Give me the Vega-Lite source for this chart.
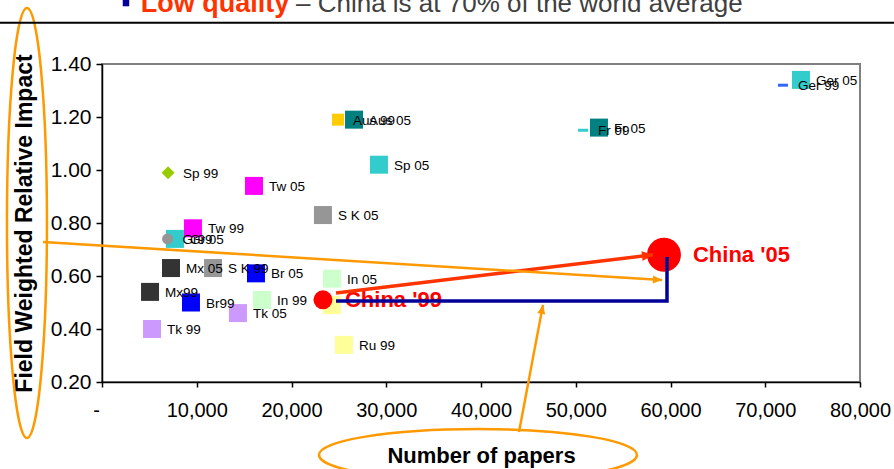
{
  "$schema": "https://vega.github.io/schema/vega-lite/v6.json",
  "width": 758,
  "height": 318,
  "autosize": {"type": "none"},
  "padding": {"left": 102, "top": 64, "right": 34, "bottom": 87},
  "background": "white",
  "config": {
    "view": {"stroke": "#808080", "strokeWidth": 2},
    "font": "Liberation Sans",
    "text": {"font": "Liberation Sans"}
  },
  "datasets": {
    "countries": [
      {"label": "Ger 05", "papers": 73770, "impact": 1.34},
      {"label": "Ger 99", "papers": 71870, "impact": 1.32},
      {"label": "Fr 05", "papers": 52450, "impact": 1.16},
      {"label": "Fr 99", "papers": 50770, "impact": 1.15},
      {"label": "Aus 05", "papers": 26600, "impact": 1.19},
      {"label": "Aus 99", "papers": 24910, "impact": 1.19},
      {"label": "Sp 05", "papers": 29230, "impact": 1.02},
      {"label": "Sp 99", "papers": 6970, "impact": 0.99},
      {"label": "Tw 05", "papers": 16040, "impact": 0.94},
      {"label": "Tw 99", "papers": 9600, "impact": 0.78},
      {"label": "S K 05", "papers": 23320, "impact": 0.83},
      {"label": "S K 99", "papers": 11720, "impact": 0.63},
      {"label": "Gr 05", "papers": 7700, "impact": 0.74},
      {"label": "Gr99", "papers": 6920, "impact": 0.74},
      {"label": "Mx 05", "papers": 7280, "impact": 0.63},
      {"label": "Mx99", "papers": 5070, "impact": 0.54},
      {"label": "Br 05", "papers": 16250, "impact": 0.61},
      {"label": "Br99", "papers": 9390, "impact": 0.50},
      {"label": "In 05", "papers": 24270, "impact": 0.59},
      {"label": "In 99", "papers": 16890, "impact": 0.51},
      {"label": "Tk 05", "papers": 14350, "impact": 0.46},
      {"label": "Tk 99", "papers": 5280, "impact": 0.40},
      {"label": "Ru 05", "papers": 24270, "impact": 0.49},
      {"label": "Ru 99", "papers": 25540, "impact": 0.34},
      {"label": "China '99", "papers": 23320, "impact": 0.51},
      {"label": "China '05", "papers": 59310, "impact": 0.68}
    ],
    "guides": [
      {"guide": "step", "step": 1, "papers": 24700, "impact": 0.506},
      {"guide": "step", "step": 2, "papers": 59630, "impact": 0.506},
      {"guide": "step", "step": 3, "papers": 59630, "impact": 0.672},
      {"guide": "growth", "step": 1, "papers": 24700, "impact": 0.536},
      {"guide": "growth", "step": 2, "papers": 58150, "impact": 0.68},
      {"guide": "impact-pointer", "step": 1, "papers": -6230, "impact": 0.728},
      {"guide": "impact-pointer", "step": 2, "papers": 59100, "impact": 0.585},
      {"guide": "papers-pointer", "step": 1, "papers": 44010, "impact": 0.011},
      {"guide": "papers-pointer", "step": 2, "papers": 46540, "impact": 0.491}
    ],
    "rings": [
      {"ring": "impact-title", "papers": -7920, "impact": 0.8},
      {"ring": "papers-title", "papers": 39680, "impact": -0.0755}
    ],
    "heading": [
      {"part": "bullet", "papers": 2530, "impact": 1.63, "text": ""},
      {"part": "lead", "papers": 4080, "impact": 1.597, "text": "Low quality"},
      {"part": "rest", "papers": 20475, "impact": 1.597, "text": "– China is at 70% of the world average"},
      {"part": "rule", "papers": -12000, "impact": 1.556, "text": ""},
      {"part": "rule", "papers": 86000, "impact": 1.556, "text": ""}
    ]
  },
  "encoding": {
    "x": {
      "field": "papers",
      "type": "quantitative",
      "scale": {"domain": [0, 80000], "nice": false, "zero": false},
      "axis": {
        "title": "Number of papers",
        "values": [0, 10000, 20000, 30000, 40000, 50000, 60000, 70000, 80000],
        "labelExpr": "datum.value === 0 ? '-' : format(datum.value, ',')",
        "labelOffset": {"condition": {"test": "datum.value === 0", "value": -6}, "value": 0},
        "grid": false,
        "domainColor": "#000000",
        "domainWidth": 1.5,
        "tickColor": "#000000",
        "tickWidth": 1.5,
        "tickSize": 5,
        "labelFont": "Liberation Sans",
        "labelFontSize": 20,
        "labelColor": "#000000",
        "labelPadding": 13,
        "labelFlush": false,
        "labelOverlap": false,
        "titleFont": "Liberation Sans",
        "titleFontSize": 22,
        "titleFontWeight": "bold",
        "titleColor": "#000000",
        "titlePadding": 25
      }
    },
    "y": {
      "field": "impact",
      "type": "quantitative",
      "scale": {"domain": [0.2, 1.4], "nice": false, "zero": false},
      "axis": {
        "title": "Field Weighted Relative Impact",
        "values": [0.2, 0.4, 0.6, 0.8, 1.0, 1.2, 1.4],
        "format": ".2f",
        "grid": false,
        "domainColor": "#000000",
        "domainWidth": 1.5,
        "tickColor": "#000000",
        "tickWidth": 1.5,
        "tickSize": 6,
        "labelFont": "Liberation Sans",
        "labelFontSize": 21,
        "labelColor": "#000000",
        "labelPadding": 5,
        "labelFlush": false,
        "labelOverlap": false,
        "titleFont": "Liberation Sans",
        "titleFontSize": 23,
        "titleFontWeight": "bold",
        "titleColor": "#000000",
        "titlePadding": 14
      }
    }
  },
  "layer": [
    {
      "data": {"name": "countries"},
      "transform": [{"filter": {"field": "label", "oneOf": ["Ger 05", "Fr 05", "Aus 05", "Sp 05", "Tw 05", "Tw 99", "S K 05", "S K 99", "Gr 05", "Mx 05", "Mx99", "Br 05", "Br99", "In 05", "In 99", "Tk 05", "Tk 99", "Ru 05", "Ru 99"]}}],
      "mark": {"type": "point", "shape": "square", "filled": true, "size": 324, "opacity": 1, "strokeWidth": 0},
      "encoding": {
        "color": {
          "field": "label",
          "type": "nominal",
          "legend": null,
          "scale": {
            "domain": ["Ger 05", "Ger 99", "Fr 05", "Fr 99", "Aus 05", "Aus 99", "Sp 05", "Sp 99", "Tw 05", "Tw 99", "S K 05", "S K 99", "Gr 05", "Gr99", "Mx 05", "Mx99", "Br 05", "Br99", "In 05", "In 99", "Tk 05", "Tk 99", "Ru 05", "Ru 99", "China '99", "China '05"],
            "range": ["#33CCCC", "#3366FF", "#008080", "#33CCCC", "#008080", "#FFCC00", "#33CCCC", "#99CC00", "#FF00FF", "#FF00FF", "#969696", "#969696", "#33CCCC", "#969696", "#333333", "#333333", "#0000FF", "#0000FF", "#CCFFCC", "#CCFFCC", "#CC99FF", "#CC99FF", "#FFFF99", "#FFFF99", "#FF0000", "#FF0000"]
          }
        }
      }
    },
    {
      "data": {"name": "countries"},
      "transform": [{"filter": {"field": "label", "equal": "Aus 99"}}],
      "mark": {"type": "point", "shape": "square", "filled": true, "size": 144, "opacity": 1, "strokeWidth": 0},
      "encoding": {"color": {"field": "label", "type": "nominal", "legend": null}}
    },
    {
      "data": {"name": "countries"},
      "transform": [{"filter": {"field": "label", "oneOf": ["Ger 99", "Fr 99"]}}],
      "mark": {"type": "point", "shape": "M -1 -0.3 L 1 -0.3 L 1 0.3 L -1 0.3 Z", "filled": true, "size": 100, "opacity": 1, "strokeWidth": 0},
      "encoding": {"color": {"field": "label", "type": "nominal", "legend": null}}
    },
    {
      "data": {"name": "countries"},
      "transform": [{"filter": {"field": "label", "equal": "Sp 99"}}],
      "mark": {"type": "point", "shape": "diamond", "filled": true, "size": 169, "opacity": 1, "strokeWidth": 0},
      "encoding": {"color": {"field": "label", "type": "nominal", "legend": null}}
    },
    {
      "data": {"name": "countries"},
      "transform": [{"filter": {"field": "label", "equal": "Gr99"}}],
      "mark": {"type": "point", "shape": "circle", "filled": true, "size": 121, "opacity": 1, "strokeWidth": 0},
      "encoding": {"color": {"field": "label", "type": "nominal", "legend": null}}
    },
    {
      "data": {"name": "countries"},
      "transform": [{"filter": {"not": {"field": "label", "oneOf": ["Ru 05", "China '99", "China '05"]}}}],
      "mark": {"type": "text", "align": "left", "baseline": "middle", "dx": 15, "dy": 1, "fontSize": 13.5, "color": "#000000"},
      "encoding": {"text": {"field": "label"}}
    },
    {
      "data": {"name": "countries"},
      "transform": [{"filter": {"field": "label", "equal": "China '99"}}],
      "mark": {"type": "point", "shape": "circle", "filled": true, "size": 361, "opacity": 1, "strokeWidth": 0, "color": "#FF0000"}
    },
    {
      "data": {"name": "countries"},
      "transform": [{"filter": {"field": "label", "equal": "China '05"}}],
      "mark": {"type": "point", "shape": "circle", "filled": true, "size": 1156, "opacity": 1, "strokeWidth": 0, "color": "#FF0000"}
    },
    {
      "data": {"name": "countries"},
      "transform": [{"filter": {"field": "label", "equal": "China '99"}}],
      "mark": {"type": "text", "align": "left", "baseline": "middle", "dx": 22, "dy": 0, "fontSize": 22, "fontWeight": "bold", "color": "#FF0000"},
      "encoding": {"text": {"field": "label"}}
    },
    {
      "data": {"name": "countries"},
      "transform": [{"filter": {"field": "label", "equal": "China '05"}}],
      "mark": {"type": "text", "align": "left", "baseline": "middle", "dx": 29, "dy": 0, "fontSize": 22, "fontWeight": "bold", "color": "#FF0000"},
      "encoding": {"text": {"field": "label"}}
    },
    {
      "data": {"name": "guides"},
      "transform": [{"filter": {"field": "guide", "equal": "step"}}],
      "mark": {"type": "line", "color": "#000099", "strokeWidth": 3.5, "strokeJoin": "miter", "strokeCap": "butt"},
      "encoding": {"order": {"field": "step", "type": "quantitative"}}
    },
    {
      "data": {"name": "guides"},
      "transform": [{"filter": {"field": "guide", "equal": "growth"}}],
      "mark": {"type": "line", "color": "#FF3300", "strokeWidth": 3.5, "strokeCap": "butt"},
      "encoding": {"order": {"field": "step", "type": "quantitative"}}
    },
    {
      "data": {"name": "guides"},
      "transform": [{"filter": {"field": "guide", "equal": "growth"}}, {"filter": {"field": "step", "equal": 2}}],
      "mark": {"type": "point", "shape": "M 0 0 L -1 -0.45 L -1 0.45 Z", "filled": true, "size": 484, "angle": 353.1, "opacity": 1, "strokeWidth": 0, "color": "#FF3300"}
    },
    {
      "data": {"name": "guides"},
      "transform": [{"filter": {"field": "guide", "oneOf": ["impact-pointer", "papers-pointer"]}}],
      "mark": {"type": "line", "color": "#FF9900", "strokeWidth": 2.5, "strokeCap": "butt"},
      "encoding": {"detail": {"field": "guide"}, "order": {"field": "step", "type": "quantitative"}}
    },
    {
      "data": {"name": "guides"},
      "transform": [{"filter": {"field": "guide", "equal": "impact-pointer"}}, {"filter": {"field": "step", "equal": 2}}],
      "mark": {"type": "point", "shape": "M 0 0 L -1 -0.45 L -1 0.45 Z", "filled": true, "size": 324, "angle": 3.5, "opacity": 1, "strokeWidth": 0, "color": "#FF9900"}
    },
    {
      "data": {"name": "guides"},
      "transform": [{"filter": {"field": "guide", "equal": "papers-pointer"}}, {"filter": {"field": "step", "equal": 2}}],
      "mark": {"type": "point", "shape": "M 0 0 L -1 -0.45 L -1 0.45 Z", "filled": true, "size": 324, "angle": 280.7, "opacity": 1, "strokeWidth": 0, "color": "#FF9900"}
    },
    {
      "data": {"name": "rings"},
      "transform": [{"filter": {"field": "ring", "equal": "impact-title"}}],
      "mark": {"type": "point", "shape": "M 0.093 0 C 0.093 0.5523 0.0514 1 0 1 C -0.0514 1 -0.093 0.5523 -0.093 0 C -0.093 -0.5523 -0.0514 -1 0 -1 C 0.0514 -1 0.093 -0.5523 0.093 0 Z", "filled": false, "size": 184900, "opacity": 1, "strokeWidth": 2.5, "color": "#FF9900"}
    },
    {
      "data": {"name": "rings"},
      "transform": [{"filter": {"field": "ring", "equal": "papers-title"}}],
      "mark": {"type": "point", "shape": "M 1 0 C 1 0.0903 0.5523 0.1635 0 0.1635 C -0.5523 0.1635 -1 0.0903 -1 0 C -1 -0.0903 -0.5523 -0.1635 0 -0.1635 C 0.5523 -0.1635 1 -0.0903 1 0 Z", "filled": false, "size": 101124, "opacity": 1, "strokeWidth": 2.5, "color": "#FF9900"}
    },
    {
      "data": {"name": "heading"},
      "transform": [{"filter": {"field": "part", "equal": "rule"}}],
      "mark": {"type": "line", "color": "#000000", "strokeWidth": 2},
      "encoding": {}
    },
    {
      "data": {"name": "heading"},
      "transform": [{"filter": {"field": "part", "equal": "bullet"}}],
      "mark": {"type": "point", "shape": "square", "filled": true, "size": 42, "opacity": 1, "strokeWidth": 0, "color": "#000099"}
    },
    {
      "data": {"name": "heading"},
      "transform": [{"filter": {"field": "part", "equal": "lead"}}],
      "mark": {"type": "text", "align": "left", "baseline": "alphabetic", "fontSize": 27, "fontWeight": "bold", "color": "#FF3300"},
      "encoding": {"text": {"field": "text"}}
    },
    {
      "data": {"name": "heading"},
      "transform": [{"filter": {"field": "part", "equal": "rest"}}],
      "mark": {"type": "text", "align": "left", "baseline": "alphabetic", "fontSize": 26, "color": "#404040"},
      "encoding": {"text": {"field": "text"}}
    }
  ]
}
